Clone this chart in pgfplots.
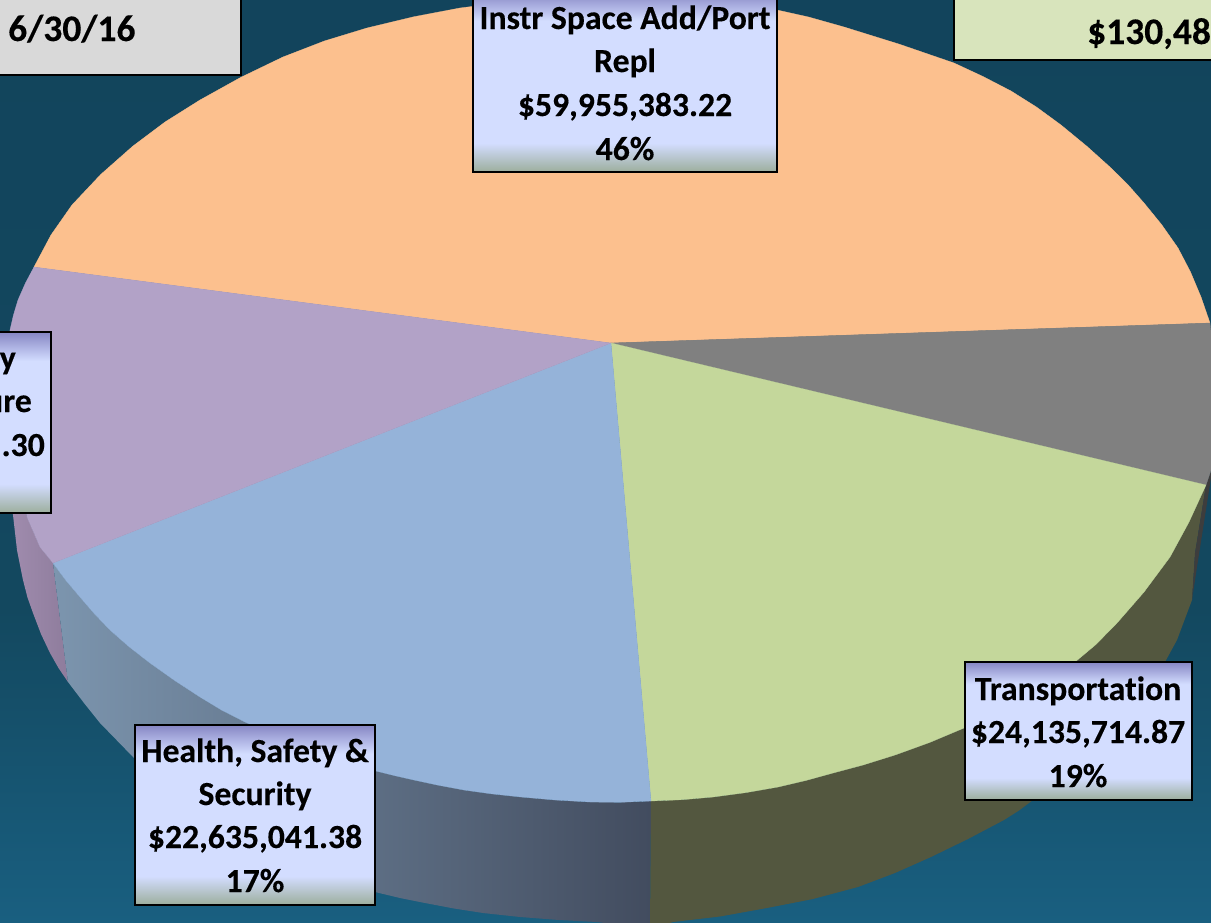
\documentclass[border=0pt]{standalone}
\usepackage{pgfplots}
\pgfplotsset{compat=1.18}
\usepackage{fontspec}
\setmainfont[Ligatures=NoCommon,BoldFeatures={FakeBold=0.3}]{Carlito}
\definecolor{bgtop}{HTML}{12445C}
\definecolor{bgmid}{HTML}{13485F}
\definecolor{bgbot}{HTML}{195F80}
\definecolor{orangeS}{HTML}{FCC08E}
\definecolor{purpleS}{HTML}{B2A2C7}
\definecolor{blueS}{HTML}{95B3D9}
\definecolor{greenS}{HTML}{C4D79B}
\definecolor{greyS}{HTML}{808080}
\definecolor{oliveW}{HTML}{53573F}
\definecolor{stripW}{HTML}{3D3D3D}
\definecolor{boxT}{HTML}{8686C4}
\definecolor{boxM}{HTML}{D3DDFF}
\definecolor{boxB}{HTML}{9CAE9C}
\pgfdeclareverticalshading{labelbox}{100bp}{
  color(0bp)=(boxB); color(25bp)=(boxB); color(33bp)=(boxM);
  color(67bp)=(boxM); color(75bp)=(boxT); color(100bp)=(boxT)}
\pgfdeclareverticalshading{bgshade}{100bp}{
  color(0bp)=(bgbot); color(25bp)=(bgbot); color(42bp)=(bgmid);
  color(75bp)=(bgtop); color(100bp)=(bgtop)}
\newcommand{\lbl}[3]{\node[anchor=base,inner sep=0pt,font=\fontsize{33.7}{34}\selectfont\bfseries] at (axis cs:#1,#2) {#3};}
\newcommand{\lble}[3]{\node[anchor=base east,inner sep=0pt,font=\fontsize{33.7}{34}\selectfont\bfseries] at (axis cs:#1,#2) {#3};}
\newcommand{\lblw}[3]{\node[anchor=base west,inner sep=0pt,font=\fontsize{37.5}{38}\selectfont\bfseries] at (axis cs:#1,#2) {#3};}
\begin{document}
\begin{tikzpicture}
\useasboundingbox (0,0) rectangle (1211pt,922pt);
\clip (0,0) rectangle (1211pt,922pt);
\begin{axis}[at={(0,0)},anchor=south west,scale only axis,width=1211pt,height=922pt,
  xmin=0,xmax=1211,ymin=0,ymax=922,y dir=reverse,axis lines=none,ticks=none]
% background
\addplot[draw=none,shade,shading=bgshade] coordinates {(0,0)(1211,0)(1211,922)(0,922)} --cycle;
% side walls
\addplot[draw=none,left color={rgb,255:red,160;green,140;blue,174},right color={rgb,255:red,142;green,124;blue,156}] coordinates {(10,470)(27,517)(40,547)(53,563)(68,682)(58.5,668)(50,653)(41,634)(33,613)(27.5,597.5)(23,580)(17,550)(13,515)} --cycle;
\addplot[draw=none,left color={rgb,255:red,124;green,149;blue,174},right color={rgb,255:red,66;green,76;blue,95}] coordinates {(53,563)(66,580.5)(80,597)(94.2,613.5)(110,630)(128.8,646.5)(150,663)(174.7,680.5)(200,697)(221.5,710)(245,722)(310,750)(376,771)(395,775.7)(414,780)(437.8,785.1)(464,790)(491.3,793.8)(521,797)(555.3,800)(590,802)(620,802.3)(651,801)(650,930)(620,925)(597,922)(559,920)(520,917)(483,913)(454,908.5)(425,903)(400,898)(375,892)(250,835)(134,758)(100,723)(84,703)(68,682)} --cycle;
\addplot[draw=none,fill=oliveW] coordinates {(651,801)(682,799.7)(713,797)(745.9,792.6)(778,787)(805.7,780.5)(833,773)(863,765)(895,755)(930,742.3)(964,728)(1020,697)(1075,662)(1096,644.4)(1117,623)(1144,592)(1170,557)(1189,522)(1206,485)(1195,553)(1192,600)(1177,640)(1165,662)(1105,730)(1033,800)(1019,810.5)(1004,820)(968,839)(931,857)(895,873)(858,887)(813,899)(767,908)(720,916.5)(673,922)(650,930)} --cycle;
\addplot[draw=none,fill=stripW] coordinates {(1206,485)(1213,465)(1197,567)(1192,600)(1195,553)} --cycle;
% top slices
\addplot[draw=orangeS,line width=0.3pt,fill=orangeS] coordinates {(611,343)(34,267)(51,235)(72,205)(100.7,174.5)(133,146)(165,122)(200,100)(240.5,77.5)(283,57)(324.4,41)(367,28)(413.7,16.8)(460,8)(540,-2)(625,-6)(700,-2)(777,10)(808.5,17)(844,27)(899.6,44.3)(954,63)(983,76.5)(1011,91)(1036.4,107)(1061,125)(1087,146.4)(1111,168)(1128.5,185.4)(1144,203)(1161.6,224.6)(1178,248)(1190.5,272)(1201,297)(1210,323)} --cycle;
\addplot[draw=greyS,line width=0.3pt,fill=greyS] coordinates {(611,343)(1210,323)(1214,360)(1215,400)(1214,440)(1211,470)(1206,485)} --cycle;
\addplot[draw=greenS,line width=0.3pt,fill=greenS] coordinates {(611,343)(1206,485)(1189,522)(1170,557)(1144,592)(1117,623)(1096,644.4)(1075,662)(1020,697)(964,728)(930,742.3)(895,755)(863,765)(833,773)(805.7,780.5)(778,787)(745.9,792.6)(713,797)(682,799.7)(651,801)} --cycle;
\addplot[draw=blueS,line width=0.3pt,fill=blueS] coordinates {(611,343)(651,801)(620,802.3)(590,802)(555.3,800)(521,797)(491.3,793.8)(464,790)(437.8,785.1)(414,780)(395,775.7)(376,771)(310,750)(245,722)(221.5,710)(200,697)(174.7,680.5)(150,663)(128.8,646.5)(110,630)(94.2,613.5)(80,597)(66,580.5)(53,563)} --cycle;
\addplot[draw=purpleS,line width=0.3pt,fill=purpleS] coordinates {(611,343)(53,563)(40,547)(27,517)(18,480)(12,440)(8,380)(10,330)(13.5,315)(18,300)(25.5,283)(34,267)} --cycle;
% boxes
\draw[draw=black,line width=2pt,fill={rgb,255:red,217;green,217;blue,217}] (axis cs:-10,-10) rectangle (axis cs:241,75);
\draw[draw=black,line width=2pt,fill={rgb,255:red,216;green,228;blue,188}] (axis cs:954,-10) rectangle (axis cs:1225,60);
\path[draw=black,line width=2pt,shade,shading=labelbox] (axis cs:473,-8) rectangle (axis cs:777,172);
\path[draw=black,line width=2pt,shade,shading=labelbox] (axis cs:135,725) rectangle (axis cs:375,905);
\path[draw=black,line width=2pt,shade,shading=labelbox] (axis cs:965,662) rectangle (axis cs:1192,800);
\path[draw=black,line width=2pt,shade,shading=labelbox] (axis cs:-190,332) rectangle (axis cs:51,513);
% text
\lblw{8}{41}{6/30/16}
\lblw{1087}{44}{\$130,48}
\lbl{625}{29}{Instr Space Add/Port}
\lbl{625}{72}{Repl}
\lbl{625}{116}{\$59,955,383.22}
\lbl{625}{160}{46\%}
\lbl{255}{762}{Health, Safety \&}
\lbl{255}{805}{Security}
\lbl{255}{848}{\$22,635,041.38}
\lbl{255}{892}{17\%}
\lbl{1078}{700}{Transportation}
\lbl{1078}{743}{\$24,135,714.87}
\lbl{1078}{787}{19\%}
\lble{16}{369}{y}
\lble{32}{412}{ure}
\lble{45}{456}{.30}
\end{axis}
\end{tikzpicture}
\end{document}
